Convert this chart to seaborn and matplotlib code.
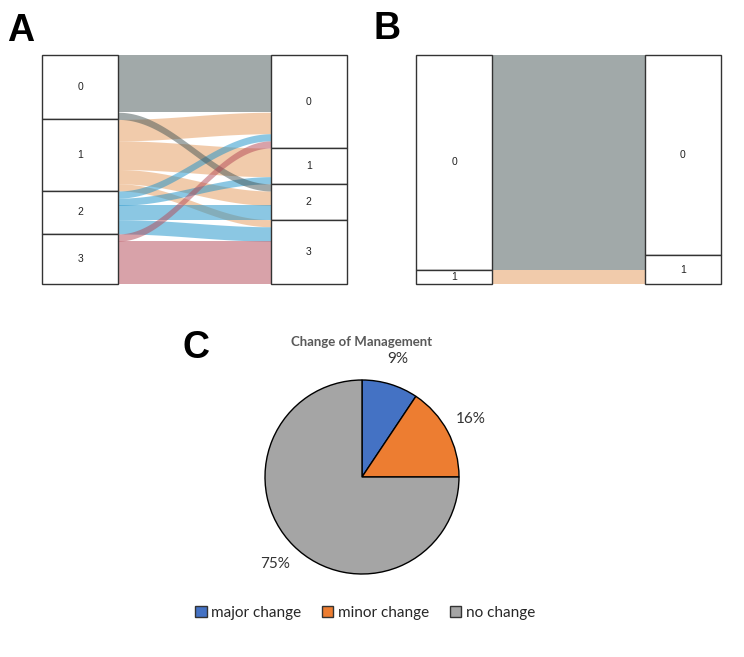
import numpy as np
import pandas as pd
import seaborn as sns
import matplotlib.pyplot as plt
from matplotlib.patches import Patch

# ---- data ----
# panel A: flows between two category axes (left -> right), counts
a_src = [0, 0, 1, 1, 1, 1, 2, 2, 2, 2, 3, 3]
a_dst = [0, 2, 0, 1, 2, 3, 0, 1, 2, 3, 0, 3]
a_n = [8, 1, 3, 4, 2, 1, 1, 1, 2, 2, 1, 6]

# panel B
b_src = [0, 0, 1]
b_dst = [0, 1, 1]
b_n = [28, 2, 2]

# panel C
pie_labels = ["major change", "minor change", "no change"]
pie_counts = [3, 5, 24]

flow_cols = ["#455555", "#e59959", "#1991c9", "#b34755"]
pie_cols = ["#4472C4", "#ED7D31", "#A5A5A5"]

sns.set_theme(style="white")
plt.rcParams['font.family'] = ['Liberation Sans', 'DejaVu Sans']

W, H = 744, 657
fig = plt.figure(figsize=(W / 100, H / 100), dpi=100)


def box(px0, py0, px1, py1):
    return [px0 / W, 1 - py1 / H, (px1 - px0) / W, (py1 - py0) / H]


def alluvial(ax, src, dst, n):
    df = pd.DataFrame({"src": src, "dst": dst, "n": n})
    total = df["n"].sum()
    left = df.sort_values(["src", "dst"])
    df.loc[left.index, "l0"] = left["n"].cumsum() - left["n"]
    right = df.sort_values(["dst", "src"])
    df.loc[right.index, "r0"] = right["n"].cumsum() - right["n"]

    # flows
    x = np.linspace(1, 3, 200)
    s = (1 - np.cos(np.pi * (x - 1) / 2)) / 2
    order = [1, 2, 0, 3]
    for c in order:
        for _, r in df[df["src"] == c].iterrows():
            top = r["l0"] + (r["r0"] - r["l0"]) * s
            ax.fill_between(x, top, top + r["n"], color=flow_cols[int(r["src"])],
                            alpha=0.5, linewidth=0)

    # category boxes
    for xpos, key in [(0.5, "src"), (3.5, "dst")]:
        cnt = df.groupby(key)["n"].sum()
        bottoms = cnt.cumsum() - cnt
        ax.bar([xpos] * len(cnt), cnt.values, bottom=bottoms.values, width=1,
               color="white", edgecolor="#333333", linewidth=1, clip_on=False)
        for cat, b, h in zip(cnt.index, bottoms.values, cnt.values):
            ax.text(xpos, b + h / 2, str(cat), ha="center", va="center",
                    fontsize=7.5, color="#222222")
    ax.set_xlim(0, 4)
    ax.set_ylim(total, 0)
    ax.axis("off")


axA = fig.add_axes(box(42, 55, 347, 284))
alluvial(axA, a_src, a_dst, a_n)
axB = fig.add_axes(box(416, 55, 721, 284))
alluvial(axB, b_src, b_dst, b_n)

# pie
cx, cy, rad = 362, 477, 97
k = 1.45
axC = fig.add_axes(box(cx - rad * k, cy - rad * k, cx + rad * k, cy + rad * k))
wedges, texts, autotexts = axC.pie(
    pie_counts, colors=pie_cols, startangle=90, counterclock=False,
    autopct=lambda p: f"{p:.0f}%", pctdistance=1.27,
    wedgeprops=dict(edgecolor="black", linewidth=1))
for t in autotexts:
    t.set_fontsize(11)
    t.set_color("#333333")
    t.set_family(["Lato", "DejaVu Sans"])
axC.set_xlim(-k, k)
axC.set_ylim(-k, k)
axC.set_aspect("equal")
axC.axis("off")

fig.text(362 / W, 1 - 342 / H, "Change of Management", ha="center", va="center",
         fontsize=9.5, fontweight="bold", color="#595959", family=["Lato", "DejaVu Sans"])

handles = [Patch(facecolor=c, edgecolor="#333333", linewidth=1) for c in pie_cols]
fig.legend(handles, pie_labels, loc="center", bbox_to_anchor=(365 / W, 1 - 613 / H),
           ncol=3, frameon=False, handlelength=0.75, handleheight=0.75,
           handletextpad=0.3, columnspacing=1.35,
           prop={"family": ["Lato", "DejaVu Sans"], "size": 11})

# panel letters
for lab, px, py in [("A", 7, 41), ("B", 374, 39), ("C", 183, 358)]:
    fig.text(px / W, 1 - py / H, lab, ha="left", va="baseline", fontsize=27,
             fontweight="bold", color="black")

fig.savefig("out.png", dpi=100, facecolor="white")
